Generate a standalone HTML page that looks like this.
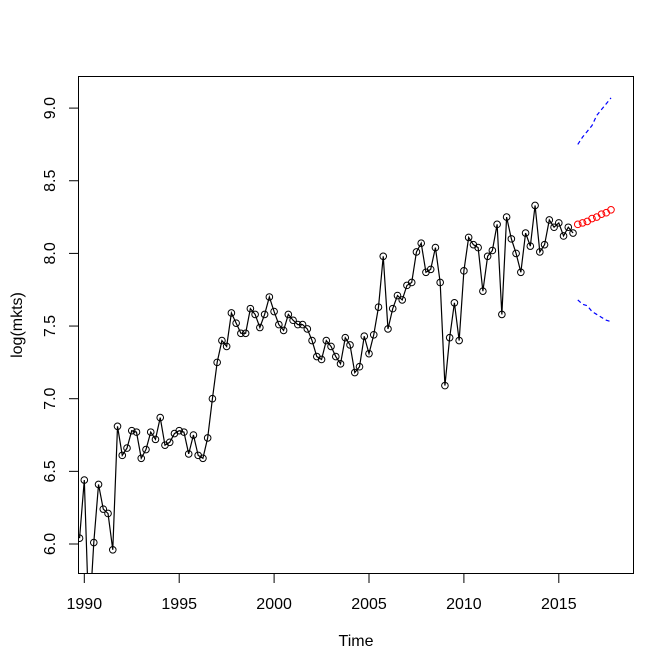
<!DOCTYPE html>
<html><head><meta charset="utf-8"><style>
body{margin:0;background:#fff;}
svg{display:block;font-family:"Liberation Sans",Arial,sans-serif;}
</style></head><body>
<svg id="chart" width="672" height="671" xmlns="http://www.w3.org/2000/svg">
<defs><clipPath id="pc"><rect x="78.5" y="76.5" width="555" height="497"/></clipPath></defs>
<rect x="78.5" y="76.5" width="555" height="497" fill="none" stroke="#000"/>
<g id="xaxis"></g>
<g id="yaxis"></g>
<text x="356" y="646" text-anchor="middle" font-size="16">Time</text>
<text transform="translate(22,325) rotate(-90)" text-anchor="middle" font-size="16">log(mkts)</text>
<g id="series" clip-path="url(#pc)"></g>
</svg>
<script>
const startYear = 1989.75;
const observed = [6.04,6.44,5.45,6.01,6.41,6.24,6.21,5.96,
6.81,6.61,6.66,6.78,6.77,6.59,6.65,6.77,6.72,6.87,6.68,6.70,6.76,6.78,6.77,6.62,6.75,6.61,6.59,6.73,7.00,7.25,7.40,7.36,7.59,7.52,7.45,7.45,7.62,7.58,7.49,7.58,7.70,7.60,
7.51,7.47,7.58,7.54,7.51,7.51,7.48,7.40,7.29,7.27,7.40,7.36,7.29,7.24,7.42,7.37,7.18,7.22,7.43,7.31,7.44,7.63,7.98,7.48,7.62,7.71,7.68,7.78,7.80,8.01,8.07,7.87,7.89,8.04,7.80,7.09,7.42,7.66,7.40,
7.88,8.11,8.06,8.04,7.74,7.98,8.02,8.20,7.58,8.25,8.10,8.00,7.87,8.14,8.05,8.33,8.01,8.06,8.23,8.18,8.21,8.12,8.18,8.14];
const forecastStart = 2016.0;
const forecast = [8.20,8.21,8.22,8.24,8.25,8.27,8.28,8.30];
const upper = [8.75,8.80,8.84,8.88,8.95,8.99,9.03,9.07];
const lower = [7.68,7.65,7.64,7.60,7.58,7.56,7.54,7.53];
const xTicks = [1990,1995,2000,2005,2010,2015];
const yTicks = [6.0,6.5,7.0,7.5,8.0,8.5,9.0];

const NS="http://www.w3.org/2000/svg";
const xs = t => 84.3 + (t-1990)*18.98;
const ys = v => 544 - (v-6)*145.3;
function mk(tag, attrs, parent){const e=document.createElementNS(NS,tag);for(const k in attrs)e.setAttribute(k,attrs[k]);parent.appendChild(e);return e;}
const xa=document.getElementById('xaxis'), ya=document.getElementById('yaxis'), sg=document.getElementById('series');
mk('line',{x1:xs(xTicks[0]),x2:xs(xTicks[xTicks.length-1]),y1:573.5,y2:573.5,stroke:'#000'},xa);
xTicks.forEach(t=>{
  const l=mk('line',{x1:xs(t),x2:xs(t),y1:573.5,y2:583,stroke:'#000'},xa);
  
  
  const tx=mk('text',{x:xs(t),y:609,'text-anchor':'middle','font-size':'16'},xa);
  tx.textContent=t;
  
  
});
yTicks.forEach(v=>{
  const l=mk('line',{x1:69,x2:78.5,y1:ys(v),y2:ys(v),stroke:'#000'},ya);
  
  
  const tx=mk('text',{transform:`translate(55,${ys(v)}) rotate(-90)`,'text-anchor':'middle','font-size':'16'},ya);
  tx.textContent=v.toFixed(1);
  
  
});
function pts(arr,start){return arr.map((v,i)=>[xs(start+i*0.25),ys(v)]);}
const op=pts(observed,startYear);
const line=mk('polyline',{points:op.map(p=>p.join(',')).join(' '),fill:'none',stroke:'#000','stroke-width':1.2},sg);


op.forEach(p=>{
  const c=mk('circle',{cx:p[0],cy:p[1],r:3.3,fill:'none',stroke:'#000','stroke-width':1},sg);
  
  
});
const fp=pts(forecast,forecastStart);
fp.forEach(p=>{
  const c=mk('circle',{cx:p[0],cy:p[1],r:3.3,fill:'none',stroke:'#f00','stroke-width':1},sg);
  
  
});
[[upper,'upper-interval-line'],[lower,'lower-interval-line']].forEach(([arr,name])=>{
  const p=pts(arr,forecastStart);
  const pl=mk('polyline',{points:p.map(q=>q.join(',')).join(' '),fill:'none',stroke:'#00f','stroke-width':1.2,'stroke-dasharray':'4,3'},sg);
  
  
});
</script>
</body></html>
